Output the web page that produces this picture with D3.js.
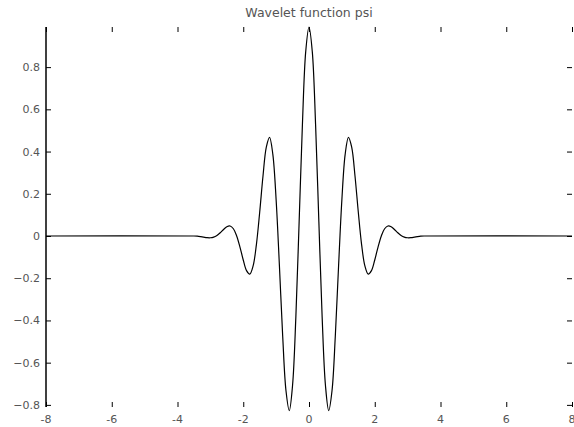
<!DOCTYPE html>
<html>
<head>
<meta charset="utf-8">
<script src="https://cdn.jsdelivr.net/npm/d3@7"></script>
<style>
  body { margin: 0; background: #fff; }
  text { font-family: "DejaVu Sans", sans-serif; }
</style>
</head>
<body>
<svg id="chart"></svg>
<script>
const title = "Wavelet function psi";
const xTicks = [-8, -6, -4, -2, 0, 2, 4, 6, 8];
const yTicks = [-0.8, -0.6, -0.4, -0.2, 0, 0.2, 0.4, 0.6, 0.8];

// psi sampled every 0.1 from -3.4 to 3.4, flat zero outside
const psiX = d3.range(-34, 35).map((i) => i / 10);
const psiY = [
  -0.0009, -0.0030, -0.0057, -0.0080, -0.0084, -0.0053, 0.0027, 0.0156, 0.0309, 0.0438,
  0.0474, 0.0343, 0.0004, -0.0524, -0.1136, -0.1640, -0.1803, -0.1419, -0.0405, 0.1125,
  0.2830, 0.4195, 0.4674, 0.3870, 0.1721, -0.1406, -0.4746, -0.7330, -0.8269, -0.7070,
  -0.3842, 0.0676, 0.5296, 0.8732, 0.9900, 0.8732, 0.5296, 0.0676, -0.3842, -0.7070,
  -0.8269, -0.7330, -0.4746, -0.1406, 0.1721, 0.3870, 0.4674, 0.4195, 0.2830, 0.1125,
  -0.0405, -0.1419, -0.1803, -0.1640, -0.1136, -0.0524, 0.0004, 0.0343, 0.0474, 0.0438,
  0.0309, 0.0156, 0.0027, -0.0053, -0.0084, -0.0080, -0.0057, -0.0030, -0.0009
];

const width = 574;
const height = 427;
const margin = { top: 27, right: 2, bottom: 20, left: 46 };

const svg = d3.select("#chart").attr("width", width).attr("height", height);

const x = d3.scaleLinear().domain([-8, 8]).range([margin.left, width - margin.right]);
const y = d3.scaleLinear().domain([-0.81, 0.99]).range([height - margin.bottom, margin.top]);

const points = [[-8, 0], [-3.5, 0]]
  .concat(psiX.map((d, i) => [d, psiY[i]]))
  .concat([[3.5, 0], [8, 0]]);

// Axes with inward ticks
const tickLen = 5;
const leftAxis = svg.append("g").attr("transform", `translate(${margin.left},0)`)
  .call(d3.axisRight(y).tickValues(yTicks).tickSize(tickLen).tickFormat(""));
leftAxis.select(".domain").attr("d", `M0,${y.range()[1]}V${y.range()[0]}`).attr("stroke-width", 1.5);

const rightAxis = svg.append("g").attr("transform", `translate(${width - margin.right},0)`)
  .call(d3.axisLeft(y).tickValues(yTicks).tickSize(tickLen).tickFormat(""));
rightAxis.select(".domain").remove();

const bottomAxis = svg.append("g").attr("transform", `translate(0,${height - margin.bottom})`)
  .call(d3.axisTop(x).tickValues(xTicks).tickSize(tickLen).tickFormat(""));
bottomAxis.select(".domain").remove();

const topAxis = svg.append("g").attr("transform", `translate(0,${margin.top})`)
  .call(d3.axisBottom(x).tickValues(xTicks).tickSize(tickLen).tickFormat(""));
topAxis.select(".domain").remove();

// Tick labels
svg.append("g").selectAll("text").data(yTicks).enter().append("text")
  .attr("x", margin.left - 6)
  .attr("y", (d) => y(d) + 4)
  .attr("text-anchor", "end")
  .style("font-size", "11px")
  .style("fill", "#555")
  .text((d) => d3.format("")(d));

svg.append("g").selectAll("text").data(xTicks).enter().append("text")
  .attr("x", (d) => x(d))
  .attr("y", height - 4)
  .attr("text-anchor", "middle")
  .style("font-size", "11px")
  .style("fill", "#555")
  .text((d) => d);

// Title
svg.append("text")
  .attr("x", x(0))
  .attr("y", 17)
  .attr("text-anchor", "middle")
  .style("font-size", "12.5px")
  .style("fill", "#555")
  .text(title);

// Curve
svg.append("path")
  .datum(points)
  .attr("fill", "none")
  .attr("stroke", "#000")
  .attr("stroke-width", 1.2)
  .attr("d", d3.line().x((d) => x(d[0])).y((d) => y(d[1])).curve(d3.curveCatmullRom));
</script>
</body>
</html>
